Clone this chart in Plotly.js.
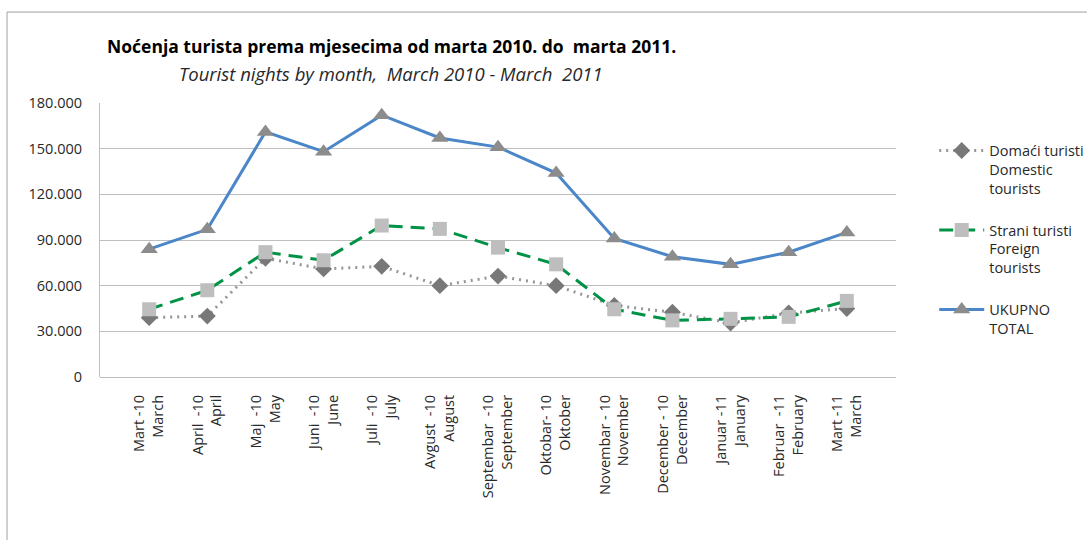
<!DOCTYPE html>
<html>
<head>
<meta charset="utf-8">
<script src="https://cdn.plot.ly/plotly-3.0.1.min.js"></script>
<style>html,body{margin:0;padding:0;background:#fff;}#chart{width:1087px;height:540px;}</style>
</head>
<body>
<div id="chart"></div>
<script>
const months = [
  "Mart -10<br>March", "April  -10<br>April", "Maj  -10<br>May", "Juni  -10<br>June",
  "Juli  -10<br>July", "Avgust  -10<br>August", "Septembar  -10<br>September",
  "Oktobar- 10<br>Oktober", "Novembar - 10<br>November", "December - 10<br>December",
  "Januar -11<br>January", "Februar  -11<br>February", "Mart -11<br>March"
].map(s => s.replace(/  /g, "\u00a0 "));
const domestic = [39000, 40000, 78000, 71000, 72700, 60000, 66300, 60000, 47000, 42500, 35500, 42000, 45000];
const foreign  = [44500, 57000, 82000, 76700, 99500, 97300, 85000, 74000, 44500, 37200, 38200, 39500, 50000];
const total    = [84000, 97000, 161000, 148000, 172000, 157000, 151000, 134000, 91000, 79000, 74000, 82000, 95000];
const yTicks = [0, 30000, 60000, 90000, 120000, 150000, 180000];

const FONT = "Open Sans, Noto Sans, sans-serif";
const TXT = "rgb(40,40,40)";
const traces = [
  {x: months, y: domestic, name: "Domaći turisti<br>Domestic<br>tourists", type: "scatter", mode: "lines+markers",
   legendgroup: "a",
   line: {color: "rgb(150,150,150)", width: 3, dash: "2px,5px"},
   marker: {symbol: "diamond", size: 13, color: "rgb(120,120,120)"}},
  {x: months, y: foreign, name: "Strani turisti<br>Foreign<br>tourists", type: "scatter", mode: "lines+markers",
   legendgroup: "b",
   line: {color: "rgb(0,146,69)", width: 3, dash: "14px,8px"},
   marker: {symbol: "square", size: 14, color: "rgb(190,190,190)"}},
  {x: months, y: total, name: "UKUPNO<br>TOTAL", type: "scatter", mode: "lines+markers",
   legendgroup: "c",
   line: {color: "rgb(74,134,200)", width: 3},
   marker: {symbol: "triangle-up", size: 15, color: "rgb(140,140,140)"}}
];

const layout = {
  width: 1087, height: 540,
  margin: {l: 100, r: 191, t: 103, b: 163, autoexpand: false},
  paper_bgcolor: "#fff", plot_bgcolor: "#fff",
  separators: ",.",
  font: {family: FONT, size: 14, color: TXT},
  showlegend: true,
  legend: {x: 1.048, xanchor: "left", y: 0.885, yanchor: "top", valign: "top",
           traceorder: "grouped", tracegroupgap: 20, itemwidth: 45,
           font: {family: FONT, size: 14.5, color: TXT}},
  xaxis: {type: "category", showgrid: false, zeroline: false, showline: false,
          ticks: "", tickangle: -90, ticklabelstandoff: 14,
          tickfont: {family: FONT, size: 14.5, color: TXT}, automargin: false},
  yaxis: {range: [0, 180000], tickvals: yTicks, tickformat: ",d", showgrid: true,
          gridcolor: "rgb(190,190,190)", gridwidth: 1, zeroline: true, zerolinecolor: "rgb(190,190,190)",
          showline: true, linecolor: "rgb(190,190,190)", linewidth: 1, ticks: "", ticklabelstandoff: 14,
          tickfont: {family: FONT, size: 14.5, color: TXT}, automargin: false},
  shapes: [
    {type: "rect", xref: "paper", yref: "paper", x0: -0.1168, x1: 1.26, y0: -0.65, y1: 1.332,
     line: {color: "rgb(160,160,160)", width: 1}, fillcolor: "rgba(0,0,0,0)"}
  ],
  annotations: [
    {text: "<b>Noćenja turista prema mjesecima od marta 2010. do\u00a0 marta 2011.</b>", xref: "paper", yref: "paper",
     x: (391-100)/796, y: (377-46)/274, xanchor: "center", yanchor: "middle", showarrow: false,
     font: {family: FONT, size: 17.5, color: "#000"}},
    {text: "<i>Tourist nights by month,\u00a0 March 2010 - March\u00a0 2011</i>", xref: "paper", yref: "paper",
     x: (391-100)/796, y: (377-73)/274, xanchor: "center", yanchor: "middle", showarrow: false,
     font: {family: FONT, size: 18.5, color: TXT}}
  ]
};

Plotly.newPlot("chart", traces, layout, {displayModeBar: false, staticPlot: true});
</script>
</body>
</html>
